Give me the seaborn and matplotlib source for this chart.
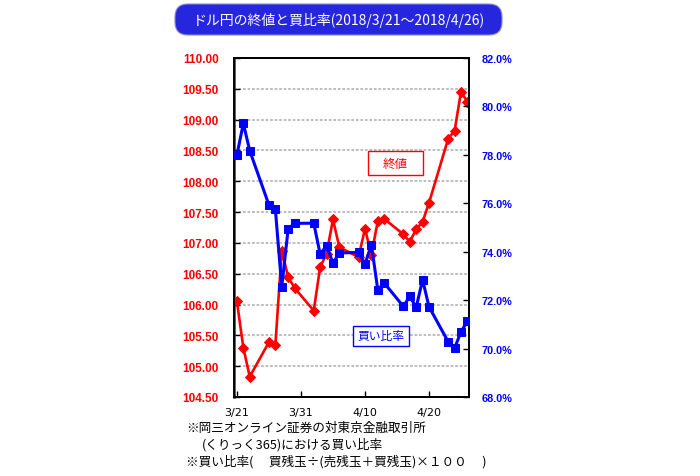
import matplotlib
matplotlib.use("Agg")
import matplotlib.pyplot as plt
from matplotlib.patches import FancyBboxPatch, Rectangle
from matplotlib.transforms import IdentityTransform
import seaborn as sns
import pandas as pd
import numpy as np

# ---- data ----
dates = ['2018-03-21', '2018-03-22', '2018-03-23', '2018-03-26', '2018-03-27',
         '2018-03-28', '2018-03-29', '2018-03-30', '2018-04-02', '2018-04-03',
         '2018-04-04', '2018-04-05', '2018-04-06', '2018-04-09', '2018-04-10',
         '2018-04-11', '2018-04-12', '2018-04-13', '2018-04-16', '2018-04-17',
         '2018-04-18', '2018-04-19', '2018-04-20', '2018-04-23', '2018-04-24',
         '2018-04-25', '2018-04-26']
close = [106.05, 105.30, 104.83, 105.39, 105.34, 106.87, 106.45, 106.27, 105.90,
         106.61, 106.82, 107.38, 106.93, 106.77, 107.23, 106.81, 107.35, 107.39,
         107.14, 107.02, 107.22, 107.34, 107.65, 108.69, 108.82, 109.45, 109.29]
buy_ratio = [78.0, 79.3, 78.17, 75.93, 75.76, 72.55, 74.94, 75.17, 75.18, 73.9,
             74.25, 73.53, 73.95, 73.97, 73.49, 74.29, 72.43, 72.71, 71.74, 72.16,
             71.70, 72.84, 71.73, 70.28, 70.01, 70.70, 71.12]
xtick_dates = ['2018-03-21', '2018-03-31', '2018-04-10', '2018-04-20']
xtick_labels = ['3/21', '3/31', '4/10', '4/20']
left_ticks = [104.5, 105.0, 105.5, 106.0, 106.5, 107.0, 107.5, 108.0, 108.5, 109.0, 109.5, 110.0]
right_ticks = [68, 70, 72, 74, 76, 78, 80, 82]
title = "ドル円の終値と買比率(2018/3/21～2018/4/26)"
label_close = "終値"
label_ratio = "買い比率"
notes = ["※岡三オンライン証券の対東京金融取引所",
         "(くりっく365)における買い比率",
         "※買い比率(　 買残玉÷(売残玉＋買残玉)×１００　 )"]

df = pd.DataFrame({"date": pd.to_datetime(dates), "close": close, "ratio": buy_ratio})

sns.set_theme(style="white")
plt.rcParams['font.family'] = ['Noto Sans CJK JP', 'DejaVu Sans']

fig = plt.figure(figsize=(7.0, 4.77), dpi=100)
W, H = 700, 477
ax = fig.add_axes([234 / W, 1 - 398 / H, 235 / W, 339 / H])
ax.set_facecolor('white')

RED = '#ff0000'
BLUE = '#0000ff'

sns.lineplot(data=df, x="date", y="close", ax=ax, color=RED, linewidth=1.9,
             marker='D', markersize=5, markeredgecolor=RED, markerfacecolor=RED,
             zorder=3)
ax2 = ax.twinx()
sns.lineplot(data=df, x="date", y="ratio", ax=ax2, color=BLUE, linewidth=2.2,
             marker='s', markersize=6, markeredgecolor=BLUE, markerfacecolor=BLUE,
             zorder=3)

# limits
x0 = pd.Timestamp('2018-03-21') - pd.Timedelta(hours=11)
x1 = pd.Timestamp('2018-04-26') + pd.Timedelta(hours=6)
ax.set_xlim(x0, x1)
ax.set_ylim(104.5, 110.0)
ax2.set_ylim(68, 82)

# grid
ax.set_yticks(left_ticks)
ax.yaxis.grid(True, color='#b8b8b8', linestyle=(0, (1.5, 1.0)), linewidth=1.3)
ax.xaxis.grid(False)
ax2.grid(False)

# ticks
ax.set_xticks(pd.to_datetime(xtick_dates))
ax.set_xticklabels(xtick_labels, fontfamily='DejaVu Sans', fontsize=8, color='black')
ax.set_yticklabels([f"{v:.2f}" for v in left_ticks], fontfamily='Liberation Sans',
                   fontweight='bold', fontsize=8.5, color=RED)
ax2.set_yticks(right_ticks)
ax2.set_yticklabels([f"{v:.1f}%" for v in right_ticks], fontfamily='Liberation Sans',
                    fontweight='bold', fontsize=7.8, color=BLUE)
ax.tick_params(axis='y', direction='in', length=4, width=1, color='black', pad=11,
               left=True)
ax.tick_params(axis='x', direction='in', length=4, width=1, color='black', pad=7,
               bottom=True)
ax2.tick_params(axis='y', direction='in', length=4, width=1, color='black', pad=9,
                right=True)
ax.set_xlabel("")
ax.set_ylabel("")
ax2.set_ylabel("")

for a in (ax, ax2):
    for s in a.spines.values():
        s.set_color('black')
        s.set_linewidth(1.3)
        s.set_visible(True)
ax.spines['left'].set_color('#333333')
ax.spines['left'].set_linewidth(1.8)

# label boxes
ax.add_patch(Rectangle((0.570, 0.655), 0.234, 0.071, transform=ax.transAxes,
                       facecolor='white', edgecolor=RED, linewidth=1.0, zorder=5))
ax.text(0.687, 0.690, label_close, transform=ax.transAxes, ha='center', va='center',
        color=RED, fontsize=9, zorder=6)
ax2.add_patch(Rectangle((0.505, 0.151), 0.241, 0.059, transform=ax.transAxes,
                        facecolor='white', edgecolor=BLUE, linewidth=1.0, zorder=5))
ax2.text(0.6255, 0.180, label_ratio, transform=ax.transAxes, ha='center', va='center',
         color=BLUE, fontsize=8.5, zorder=6)

# title box (pixel coords)
tb = FancyBboxPatch((175, H - 36), 327, 31,
                    boxstyle='round,pad=0,rounding_size=13',
                    transform=IdentityTransform(), facecolor='#2626de',
                    edgecolor='#8888cc', linewidth=0.8)
fig.add_artist(tb)
fig.text(338.5 / W, 1 - 20.5 / H, title, ha='center', va='center', color='white',
         fontsize=10)

# notes
fig.text(186 / W, 1 - 428 / H, notes[0], ha='left', va='center', fontsize=9.1, color='black')
fig.text(202 / W, 1 - 445 / H, notes[1], ha='left', va='center', fontsize=9.1, color='black')
fig.text(186 / W, 1 - 462 / H, notes[2], ha='left', va='center', fontsize=9.1, color='black')

fig.savefig("out.png", dpi=100)
